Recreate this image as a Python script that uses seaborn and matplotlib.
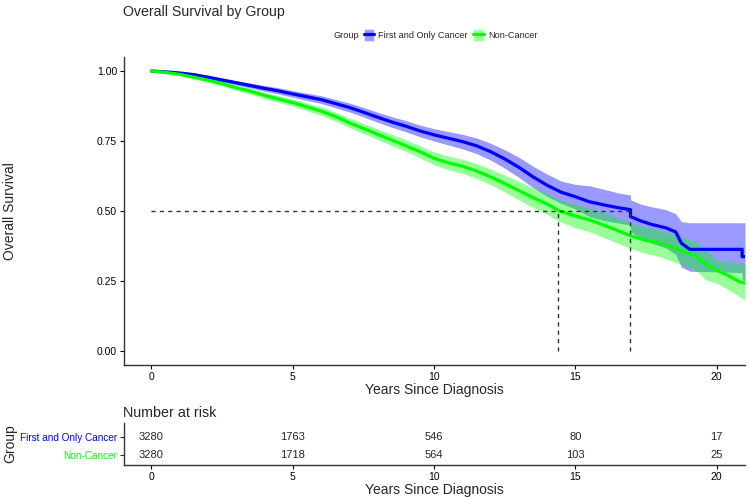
import numpy as np
import pandas as pd
import seaborn as sns
import matplotlib.pyplot as plt
from matplotlib.patches import Patch
from matplotlib.lines import Line2D

# Kaplan-Meier estimates (repeated times = vertical drops)
cancer_t = [0, 0.5, 1, 1.5, 2, 2.5, 3, 3.5, 4, 4.5, 5, 5.5, 6, 6.5, 7, 7.5, 8, 8.5,
            9, 9.5, 10, 10.5, 11, 11.5, 12, 12.5, 13, 13.5, 14, 14.5, 15, 15.5, 16,
            16.5, 16.95, 16.95, 17.3, 17.7, 18.2, 18.55, 18.75, 19.05, 20.9, 20.9, 21.0]
cancer_s = [1.000, 0.997, 0.993, 0.987, 0.978, 0.968, 0.958, 0.948, 0.938, 0.929,
            0.918, 0.908, 0.898, 0.884, 0.870, 0.853, 0.835, 0.818, 0.803, 0.786,
            0.772, 0.760, 0.748, 0.733, 0.712, 0.686, 0.656, 0.622, 0.592, 0.567,
            0.551, 0.533, 0.522, 0.512, 0.505, 0.480, 0.465, 0.452, 0.440, 0.425,
            0.385, 0.363, 0.363, 0.337, 0.337]
cancer_lo = [1.000, 0.995, 0.990, 0.982, 0.972, 0.961, 0.950, 0.939, 0.928, 0.918,
             0.906, 0.895, 0.884, 0.869, 0.854, 0.836, 0.817, 0.799, 0.783, 0.765,
             0.750, 0.736, 0.722, 0.705, 0.682, 0.653, 0.620, 0.584, 0.552, 0.527,
             0.507, 0.480, 0.466, 0.457, 0.450, 0.425, 0.405, 0.385, 0.368, 0.345,
             0.300, 0.285, 0.280, 0.255, 0.250]
cancer_hi = [1.000, 0.999, 0.996, 0.992, 0.984, 0.975, 0.966, 0.957, 0.948, 0.940,
             0.930, 0.921, 0.912, 0.899, 0.886, 0.870, 0.853, 0.837, 0.823, 0.807,
             0.794, 0.784, 0.774, 0.761, 0.742, 0.719, 0.692, 0.660, 0.632, 0.607,
             0.595, 0.590, 0.578, 0.565, 0.557, 0.540, 0.525, 0.515, 0.505, 0.490,
             0.462, 0.458, 0.458, 0.458, 0.458]

noncancer_t = [0, 0.5, 1, 1.5, 2, 2.5, 3, 3.5, 4, 4.5, 5, 5.5, 6, 6.5, 7, 7.5, 8, 8.5,
               9, 9.5, 10, 10.5, 11, 11.5, 12, 12.5, 13, 13.5, 14, 14.4, 15, 15.5, 16,
               16.5, 17, 17.5, 18, 18.5, 19, 19.3, 19.6, 20, 20.4, 20.8, 21.0]
noncancer_s = [1.000, 0.995, 0.988, 0.978, 0.967, 0.955, 0.940, 0.928, 0.913, 0.900,
               0.887, 0.872, 0.857, 0.838, 0.815, 0.795, 0.774, 0.754, 0.733, 0.712,
               0.688, 0.672, 0.660, 0.643, 0.622, 0.598, 0.573, 0.548, 0.525, 0.502,
               0.482, 0.468, 0.450, 0.430, 0.410, 0.395, 0.385, 0.368, 0.349, 0.337,
               0.310, 0.289, 0.270, 0.248, 0.242]
noncancer_lo = [1.000, 0.992, 0.984, 0.972, 0.960, 0.947, 0.931, 0.918, 0.902, 0.888,
                0.874, 0.858, 0.842, 0.822, 0.798, 0.777, 0.755, 0.734, 0.712, 0.690,
                0.665, 0.648, 0.635, 0.616, 0.594, 0.568, 0.540, 0.512, 0.488, 0.464,
                0.440, 0.426, 0.405, 0.385, 0.365, 0.348, 0.337, 0.318, 0.300, 0.285,
                0.255, 0.242, 0.220, 0.195, 0.182]
noncancer_hi = [1.000, 0.998, 0.992, 0.984, 0.974, 0.963, 0.949, 0.938, 0.924, 0.912,
                0.900, 0.886, 0.872, 0.854, 0.832, 0.813, 0.793, 0.774, 0.754, 0.734,
                0.711, 0.696, 0.685, 0.670, 0.650, 0.628, 0.606, 0.584, 0.562, 0.540,
                0.524, 0.510, 0.494, 0.475, 0.456, 0.442, 0.432, 0.415, 0.398, 0.388,
                0.362, 0.325, 0.318, 0.310, 0.310]

groups = ["First and Only Cancer", "Non-Cancer"]
colors = {"First and Only Cancer": "#0000FF", "Non-Cancer": "#00FF00"}
medians = [14.4, 16.93]

risk_times = [0, 5, 10, 15, 20]
risk_cancer = [3280, 1763, 546, 80, 17]
risk_noncancer = [3280, 1718, 564, 103, 25]

df = pd.concat([
    pd.DataFrame({"time": cancer_t, "surv": cancer_s, "lo": cancer_lo, "hi": cancer_hi,
                  "Group": groups[0]}),
    pd.DataFrame({"time": noncancer_t, "surv": noncancer_s, "lo": noncancer_lo,
                  "hi": noncancer_hi, "Group": groups[1]}),
])

sns.set_theme(style="ticks")
plt.rcParams["font.family"] = ["Liberation Sans", "DejaVu Sans"]

fig = plt.figure(figsize=(7.5, 4.97), dpi=100)
ax = fig.add_axes([0.1653, 0.2656, 0.828, 0.6197])
tab = fig.add_axes([0.1653, 0.0644, 0.828, 0.0845])

# confidence bands
for g in groups:
    d = df[df["Group"] == g]
    ax.fill_between(d["time"], d["lo"], d["hi"], color=colors[g], alpha=0.4, linewidth=0)

sns.lineplot(data=df, x="time", y="surv", hue="Group", palette=colors, estimator=None,
             sort=False, linewidth=2.3, ax=ax, legend=False)

# median survival guides
ax.plot([0, max(medians)], [0.5, 0.5], ls=(0, (3, 3)), color="#333333", lw=1)
for m in medians:
    ax.plot([m, m], [0, 0.5], ls=(0, (3, 3)), color="#333333", lw=1)

ax.set_xlim(-0.97, 21.0)
ax.set_ylim(-0.05, 1.05)
ax.set_xticks([0, 5, 10, 15, 20])
ax.set_yticks([0, 0.25, 0.5, 0.75, 1.0])
ax.set_yticklabels(["0.00", "0.25", "0.50", "0.75", "1.00"])
ax.set_xlabel("Years Since Diagnosis", fontsize=10, labelpad=1)
ax.set_ylabel("Overall Survival", fontsize=10)
ax.yaxis.set_label_coords(-0.172, 0.5)
ax.tick_params(labelsize=7.5, length=3, width=0.8, pad=2, colors="black")
sns.despine(ax=ax)
for s in ["left", "bottom"]:
    ax.spines[s].set_color("#333333")
    ax.spines[s].set_linewidth(1)
fig.text(0.164, 0.976, "Overall Survival by Group", fontsize=10.2, va="center")

# legend
fig.text(0.444, 0.929, "Group", fontsize=6.6, va="center")
handles = [(Patch(facecolor=colors[g], alpha=0.4), Line2D([], [], color=colors[g], lw=2.3))
           for g in groups]
fig.legend(handles, groups, loc="center left", bbox_to_anchor=(0.485, 0.929), ncol=2,
           frameon=False, fontsize=6.6, handlelength=1.1, handleheight=1.7,
           handletextpad=0.5, columnspacing=0.6, borderaxespad=0, borderpad=0)

# number at risk table
for y, vals in zip([2, 1], [risk_cancer, risk_noncancer]):
    for t, v in zip(risk_times, vals):
        tab.text(t, y, str(v), ha="center", va="center", fontsize=8)
tab.set_xlim(ax.get_xlim())
tab.set_ylim(0.45, 2.78)
tab.set_yticks([1, 2])
tab.set_yticklabels(["Non-Cancer", "First and Only Cancer"])
for lab, g in zip(tab.get_yticklabels(), [groups[1], groups[0]]):
    lab.set_color(colors[g])
tab.set_xticks([0, 5, 10, 15, 20])
tab.tick_params(labelsize=7.2, length=3, width=0.8, pad=2)
tab.tick_params(axis="x", colors="black", labelsize=7.5)
tab.set_xlabel("Years Since Diagnosis", fontsize=10, labelpad=1)
tab.set_ylabel("Group", fontsize=10)
tab.yaxis.set_label_coords(-0.172, 0.5)
sns.despine(ax=tab)
for s in ["left", "bottom"]:
    tab.spines[s].set_color("#333333")
    tab.spines[s].set_linewidth(1)
tab.set_title("Number at risk", fontsize=10.3, loc="left", x=-0.002, pad=4)

fig.savefig("out.png", dpi=100)
